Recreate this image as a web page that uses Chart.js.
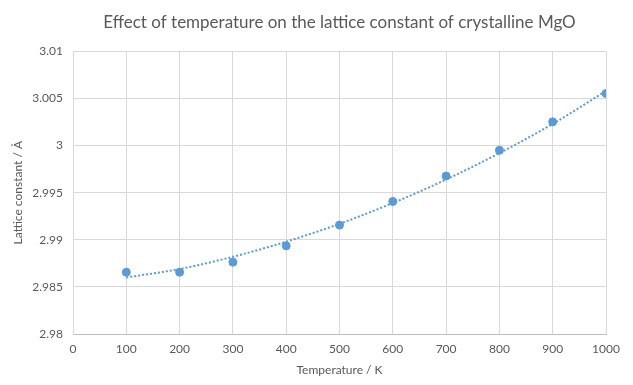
<!DOCTYPE html>
<html lang="en">
  <head>
    <meta charset="UTF-8" />
    <title>Lattice constant of MgO</title>
    <script src="https://cdn.jsdelivr.net/npm/chart.js"></script>
    <style>
      html, body { margin: 0; padding: 0; background: #ffffff; }
      #chart { display: block; }
    </style>
  </head>
  <body>
    <canvas id="chart" width="633" height="385"></canvas>
    <script>
      // temperature (K) and measured lattice constant (Å)
      var temperatures = [100, 200, 300, 400, 500, 600, 700, 800, 900, 1000];
      var latticeConst = [2.98656, 2.98656, 2.98763, 2.98936, 2.99156, 2.99407, 2.99677, 2.9995, 3.00252, 3.00553];
      // dotted trendline at the same temperatures
      var trendValues = [2.9860, 2.9869, 2.9882, 2.9898, 2.9917, 2.9939, 2.9964, 2.9992, 3.0023, 3.0058];

      var xTicks = { min: 0, max: 1000, step: 100 };
      var yTicks = { min: 2.98, max: 3.01, step: 0.005 };

      var grey = "#595959";
      var fontFamily = "Lato, 'Open Sans', sans-serif";

      // centre the title over the plot area like Excel does
      var centreTitle = {
        id: "centreTitle",
        afterLayout: function (chart) {
          if (chart.titleBlock) {
            chart.titleBlock.left = chart.chartArea.left;
            chart.titleBlock.right = chart.chartArea.right;
          }
        },
      };

      var ctx = document.getElementById("chart").getContext("2d");
      var chart = new Chart(ctx, {
        type: "scatter",
        data: {
          datasets: [
            {
              label: "Trendline",
              type: "line",
              data: temperatures.map(function (t, i) { return { x: t, y: trendValues[i] }; }),
              borderColor: "#5b9bd5",
              borderWidth: 2,
              borderDash: [2, 2],
              pointRadius: 0,
              fill: false,
              cubicInterpolationMode: "monotone",
              order: 2,
            },
            {
              label: "Lattice constant",
              data: temperatures.map(function (t, i) { return { x: t, y: latticeConst[i] }; }),
              backgroundColor: "#5b9bd5",
              borderColor: "#5b9bd5",
              pointRadius: 4,
              pointHoverRadius: 4,
              order: 1,
            },
          ],
        },
        plugins: [centreTitle],
        options: {
          responsive: false,
          animation: false,
          layout: { padding: { left: 0, right: 27, top: 0, bottom: 0 } },
          plugins: {
            legend: { display: false },
            tooltip: { enabled: false },
            title: {
              display: true,
              text: "Effect of temperature on the lattice constant of crystalline MgO",
              color: grey,
              font: { family: fontFamily, size: 17, weight: "normal" },
              padding: { top: 12, bottom: 19 },
            },
          },
          scales: {
            x: {
              type: "linear",
              min: xTicks.min,
              max: xTicks.max,
              afterFit: function (scale) { scale.height = 51; },
              ticks: {
                stepSize: xTicks.step,
                color: grey,
                font: { family: fontFamily, size: 12 },
                padding: 8,
                maxRotation: 0,
                callback: function (v) { return String(v); },
              },
              grid: { color: "#d9d9d9", drawTicks: false },
              border: { color: "#bfbfbf" },
              title: {
                display: true,
                text: "Temperature / K",
                color: grey,
                font: { family: fontFamily, size: 12 },
                padding: { top: 0, bottom: 8 },
              },
            },
            y: {
              type: "linear",
              min: yTicks.min,
              max: yTicks.max,
              afterFit: function (scale) { scale.width = 73; },
              ticks: {
                stepSize: yTicks.step,
                color: grey,
                font: { family: fontFamily, size: 12 },
                padding: 10,
                callback: function (v) { return String(parseFloat(v.toFixed(3))); },
              },
              grid: { color: "#d9d9d9", drawTicks: false },
              border: { color: "#d9d9d9" },
              title: {
                display: true,
                text: "Lattice constant / Å",
                color: grey,
                font: { family: fontFamily, size: 12 },
                padding: { top: 11, bottom: 0 },
              },
            },
          },
        },
      });
    </script>
  </body>
</html>
